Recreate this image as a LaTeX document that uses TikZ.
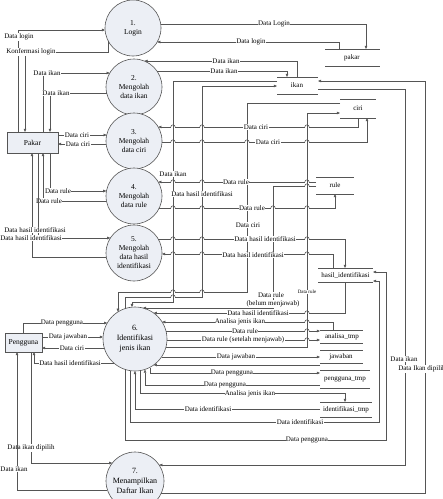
\documentclass[tikz,border=0pt]{standalone}
\usepackage{fontspec}
\setmainfont{Liberation Serif}
\usetikzlibrary{arrows.meta}
\definecolor{lnc}{RGB}{85,85,85}
\definecolor{bgc}{RGB}{236,239,245}
\newcommand\hop[2]{\fill[white] (#1-2.2,#2-1) rectangle (#1+2.2,#2+1);
  \draw[ln] (#1,#2-1.1) -- (#1,#2+1.1);
  \draw[ln] (#1-2.2,#2) arc[start angle=180,end angle=360,radius=2.2];}
\begin{document}
\begin{tikzpicture}[x=1pt,y=-1pt,
  ln/.style={draw=lnc,line width=0.55pt},
  arr/.style={ln,-{Triangle[length=3.2pt,width=2.6pt]}},
  lbl/.style={fill=white,inner sep=0.4pt,font=\fontsize{7}{8}\selectfont},
  proc/.style={circle,draw=lnc,fill=bgc,line width=0.6pt,align=center,inner sep=0pt,font=\fontsize{7.5}{9}\selectfont},
  ent/.style={draw=lnc,fill=bgc,line width=0.6pt,inner sep=0pt,font=\fontsize{7.5}{9}\selectfont},
  store/.style={font=\fontsize{7}{8}\selectfont,inner sep=0pt}]
\useasboundingbox (0,0) rectangle (443,499);
% processes
\node[proc,minimum size=56pt] (c1) at (133,28) {1.\\Login};
\node[proc,minimum size=56pt] (c2) at (134,87) {2.\\Mengolah\\data ikan};
\node[proc,minimum size=56pt] (c3) at (134,141) {3.\\Mengolah\\data ciri};
\node[proc,minimum size=56pt] (c4) at (134,196) {4.\\Mengolah\\data rule};
\node[proc,minimum size=56pt] (c5) at (134,253) {5.\\Mengolah\\data hasil\\identifikasi};
\node[proc,minimum size=64pt,font=\fontsize{8}{10}\selectfont] (c6) at (135,339) {6.\\Identifikasi\\jenis ikan};
\node[proc,minimum size=58pt,font=\fontsize{8}{10}\selectfont] (c7) at (135,481) {7.\\Menampilkan\\Daftar Ikan};
% entities
\node[ent,minimum width=51pt,minimum height=21pt] (pakar) at (32.5,142.5) {Pakar};
\node[ent,minimum width=37pt,minimum height=19pt] (pengguna) at (23.5,342.5) {Pengguna};
% stores
\node[store] (spakar) at (352,57.5) {pakar};
\draw[ln] (325,49) -- (380,49) (325,66) -- (380,66);
\node[store] (sikan) at (297,85.5) {ikan};
\draw[ln] (277,77) -- (318,77) (277,94) -- (318,94);
\node[store] (sciri) at (358,108.5) {ciri};
\draw[ln] (340,99) -- (376,99) (340,118) -- (376,118);
\node[store] (srule) at (335,185.5) {rule};
\draw[ln] (316,177) -- (354,177) (316,194) -- (354,194);
\node[store] (shasil) at (345.5,275) {hasil\_identifikasi};
\draw[ln] (318,268) -- (373,268) (318,282) -- (373,282);
\node[store] (sanalisa) at (342,336.5) {analisa\_tmp};
\draw[ln] (320,330) -- (363,330) (320,343) -- (363,343);
\node[store] (sjawaban) at (341,356.5) {jawaban};
\draw[ln] (320,350) -- (363,350) (320,363) -- (363,363);
\node[store] (spengtmp) at (345,379) {pengguna\_tmp};
\draw[ln] (320,370) -- (370,370) (320,388) -- (370,388);
\node[store] (sidtmp) at (346,409.5) {identifikasi\_tmp};
\draw[ln] (320,402) -- (372,402) (320,417) -- (372,417);
% Pakar flows
\draw[arr] (18,132) -- (18,30) -- (105.1,30);
\node[lbl] at (19,37) {Data login};
\draw[arr] (108,40.6) -- (108,52) -- (25,52) -- (25,132);
\node[lbl] at (31,52) {Konfermasi login};
\draw[arr] (43,132) -- (43,73) -- (109.8,73);
\node[lbl] at (47,73) {Data ikan};
\draw[arr] (106.7,93) -- (50,93) -- (50,132);
\node[lbl] at (56,93) {Data ikan};
\draw[arr] (58,135) -- (106.7,135);
\node[lbl] at (77,135) {Data ciri};
\draw[arr] (106.2,144) -- (58,144);
\node[lbl] at (78,144) {Data ciri};
\draw[arr] (50,153) -- (50,191) -- (106.4,191);
\node[lbl] at (58,191) {Data rule};
\draw[arr] (106.4,201) -- (43,201) -- (43,153);
\node[lbl] at (49,201) {Data rule};
\draw[arr] (38,153) -- (38,238) -- (110.4,238);
\draw[arr] (106.3,257) -- (32,257) -- (32,153);
\node[lbl] at (35,230) {Data hasil identifikasi};
\node[lbl] at (31,238) {Data hasil identifikasi};
% top right
\draw[arr] (160.7,24) -- (366,24) -- (366,49);
\node[lbl] at (274,24) {Data Login};
\draw[arr] (339,49) -- (339,42) -- (157.2,42);
\node[lbl] at (251,42) {Data login};
\draw[arr] (297,77) -- (297,61) -- (144.4,61);
\node[lbl] at (226,61) {Data ikan};
\draw[arr] (157,71) -- (287,71) -- (287,77);
\node[lbl] at (224,71) {Data ikan};
\draw[arr] (277,81) -- (173,81) -- (173,302) -- (132,302) -- (132,307.1);
\draw[arr] (125,308.6) -- (125,297) -- (202,297) -- (202,86) -- (277,86);
\draw[arr] (318,89) -- (405,89) -- (405,465) -- (159.2,465);
\draw[arr] (161.4,493) -- (425,493) -- (425,81) -- (318,81);
% ciri
\draw[arr] (358,118) -- (358,127) -- (158.2,127);
\draw[arr] (162,142) -- (367,142) -- (367,118);
\draw[arr] (340,103) -- (247,103) -- (247,292) -- (118,292) -- (118,311.9);
\draw[arr] (166,347) -- (307,347) -- (307,113) -- (340,113);
% rule
\draw[arr] (316,182) -- (158.2,182);
\draw[arr] (159.3,208) -- (335,208) -- (335,194);
\draw[arr] (316,186) -- (273,186) -- (273,308) -- (142.9,308);
% hasil
\draw[arr] (158.2,239) -- (345,239) -- (345,268);
\draw[arr] (333,268) -- (333,254) -- (162,254);
% c6 right
\draw[arr] (345,282) -- (345,313) -- (153.7,313);
\draw[arr] (333,330) -- (333,322) -- (162.1,322);
\draw[arr] (166,331) -- (320,331);
\draw[arr] (167,340) -- (320,340);
\draw[arr] (161.5,357) -- (320,357);
\draw[arr] (320,365) -- (153.7,365);
% hops
\foreach \hx in {173,202,247,307}{\foreach \hy in {127,142,182,208,239,254}{\hop{\hx}{\hy}}}
\foreach \hy in {208,239,254}{\hop{273}{\hy}}
\hop{307}{186}\hop{307}{313}\hop{307}{322}\hop{307}{331}\hop{307}{340}
\hop{173}{292}\hop{202}{292}\hop{173}{297}
% labels on right
\node[lbl] at (173,174) {Data ikan};
\node[lbl] at (202,194) {Data hasil identifikasi};
\node[lbl] at (404,359) {Data ikan};
\node[lbl] at (422,369) {Data Ikan dipilih};
\node[lbl] at (256,127) {Data ciri};
\node[lbl] at (268,142) {Data ciri};
\node[lbl] at (248,225) {Data ciri};
\node[lbl,font=\fontsize{5}{6}\selectfont] at (307,292) {Data rule};
\node[lbl] at (236,182) {Data rule};
\node[lbl] at (252,208) {Data rule};
\node[lbl] at (271,295) {Data rule};
\node[lbl] at (273,304) {(belum menjawab)};
\node[lbl] at (265,239) {Data hasil identifikasi};
\node[lbl] at (253,255) {Data hasil identifikasi};
\node[lbl] at (258,313) {Data hasil identifikasi};
\node[lbl] at (240,322) {Analisa jenis ikan};
\node[lbl] at (245,331) {Data rule};
\node[lbl] at (243,340) {Data rule (setelah menjawab)};
\node[lbl] at (236,357) {Data jawaban};
% c6 bottom
\draw[arr] (150,367.8) -- (150,373) -- (320,373);
\node[lbl] at (232,373) {Data pengguna};
\draw[arr] (320,385) -- (145,385) -- (145,369.5);
\node[lbl] at (225,385) {Data pengguna};
\draw[arr] (140,370.6) -- (140,393) -- (345,393) -- (345,402);
\node[lbl] at (250,394) {Analisa jenis ikan};
\draw[arr] (320,409) -- (135,409) -- (135,371);
\node[lbl] at (208,409) {Data identifikasi};
\draw[arr] (130,370.6) -- (130,422) -- (379,422) -- (379,281) -- (373,281);
\node[lbl] at (300,422) {Data identifikasi};
\draw[arr] (125,369.4) -- (125,440) -- (386,440) -- (386,272) -- (373,272);
\node[lbl] at (307,440) {Data pengguna};
% Pengguna flows
\draw[arr] (23,333) -- (23,323) -- (107.3,323);
\node[lbl] at (62,323) {Data pengguna};
\draw[arr] (42,337) -- (103.1,337);
\node[lbl] at (68,337) {Data jawaban};
\draw[arr] (104.3,348) -- (42,348);
\node[lbl] at (72,348) {Data ciri};
\draw[arr] (113.8,363) -- (34,363) -- (34,352);
\node[lbl] at (70,363) {Data hasil identifikasi};
\draw[arr] (31,352) -- (31,463) -- (112.3,463);
\node[lbl] at (31,448) {Data ikan dipilih};
\draw[arr] (107.4,490) -- (17,490) -- (17,352);
\node[lbl] at (14,469) {Data ikan};
\end{tikzpicture}
\end{document}
